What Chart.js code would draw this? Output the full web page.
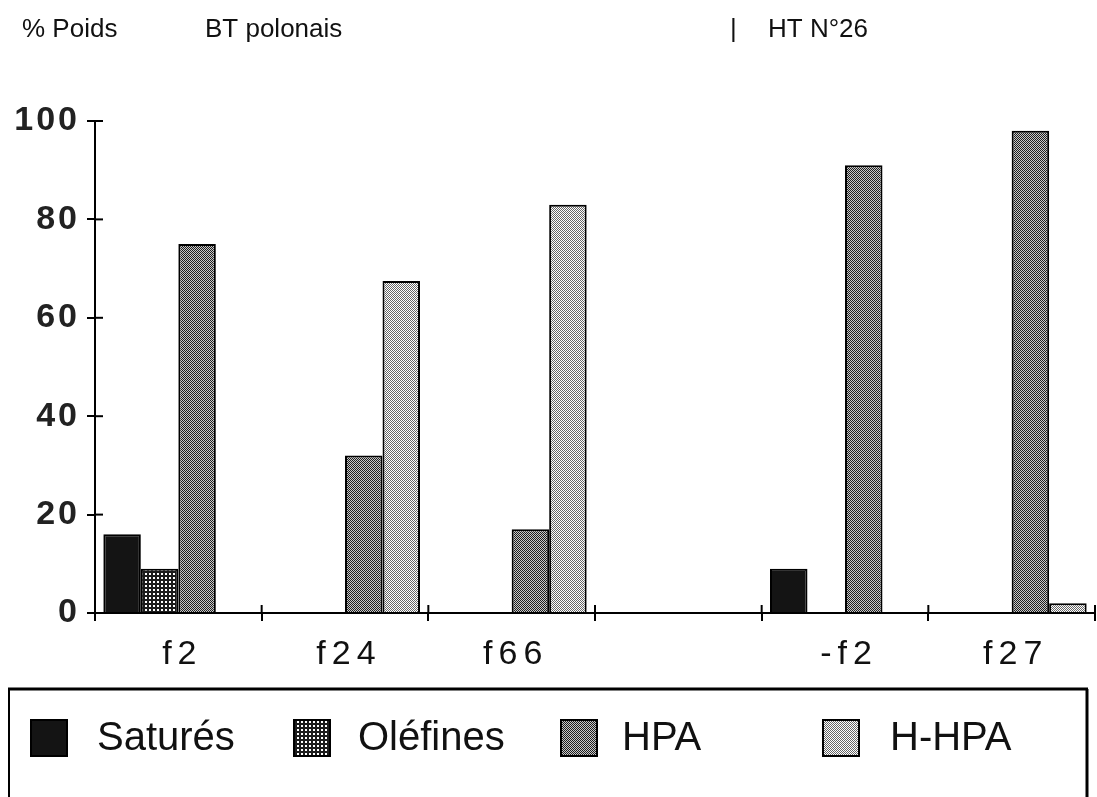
<!DOCTYPE html>
<html>
<head>
<meta charset="utf-8">
<script src="https://cdn.jsdelivr.net/npm/chart.js@4/dist/chart.umd.min.js"></script>
<style>
  body { margin: 0; background: #fff; }
  canvas { display: block; }
</style>
</head>
<body>
<canvas id="barChart" width="1097" height="797"></canvas>
<script>
const categories = ['f2', 'f24', 'f66', '', '-f2', 'f27'];
const satures = [16, 0, 0, 0, 9, 0];
const olefines = [9, 0, 0, 0, 0, 0];
const hpa = [75, 32, 17, 0, 91, 98];
const hhpa = [0, 67.5, 83, 0, 0, 2];
const yMin = 0, yMax = 100, yStep = 20;

// little tiles for the halftone fills
function makePattern(size, draw) {
  const c = document.createElement('canvas');
  c.width = size; c.height = size;
  const g = c.getContext('2d');
  draw(g);
  return g.createPattern(c, 'repeat');
}
const ctx = document.getElementById('barChart').getContext('2d');
const fillSat = '#141414';
const fillOle = makePattern(4, g => {
  g.fillStyle = '#1c1c1c'; g.fillRect(0, 0, 4, 4);
  g.fillStyle = '#fff'; g.fillRect(1, 1, 2, 2);
});
const fillHpa = makePattern(2, g => {
  g.fillStyle = '#c8c8c8'; g.fillRect(0, 0, 2, 2);
  g.fillStyle = '#1e1e1e'; g.fillRect(0, 0, 1, 1); g.fillRect(1, 1, 1, 1);
});
const fillHhpa = makePattern(2, g => {
  g.fillStyle = '#fff'; g.fillRect(0, 0, 2, 2);
  g.fillStyle = '#666'; g.fillRect(0, 0, 1, 1); g.fillRect(1, 1, 1, 1);
});

const font = 'Liberation Sans, Arial, Helvetica, sans-serif';
const spacing = { x: '6px', y: '3px' };

const decor = {
  id: 'decor',
  beforeDraw(chart) {
    // wider letter spacing on the axis labels, like the old print
    Object.values(chart.scales).forEach(s => {
      if (s._spaced) return;
      const orig = s.drawLabels.bind(s);
      s.drawLabels = area => {
        chart.ctx.save();
        chart.ctx.letterSpacing = spacing[s.id] || '0px';
        orig(area);
        chart.ctx.restore();
      };
      s._spaced = true;
    });
  },
  afterDraw(chart) {
    const c = chart.ctx;
    const x = chart.scales.x, y = chart.scales.y;
    c.save();
    c.strokeStyle = '#000';
    c.lineWidth = 2;
    // inner half of the ticks (they cross the axes)
    y.ticks.forEach((t, i) => {
      const py = y.getPixelForTick(i);
      c.beginPath(); c.moveTo(x.left, py); c.lineTo(x.left + 8, py); c.stroke();
    });
    c.beginPath(); c.moveTo(x.left, y.bottom); c.lineTo(x.left, y.bottom + 8); c.stroke();
    const n = categories.length;
    for (let i = 0; i <= n; i++) {
      const px = x.left + i * x.width / n;
      c.beginPath(); c.moveTo(px, y.bottom - 8); c.lineTo(px, y.bottom); c.stroke();
    }

    // header
    c.fillStyle = '#111';
    c.font = '26px ' + font;
    c.textBaseline = 'middle';
    c.fillText('% Poids', 22, 30);
    c.fillText('BT polonais', 205, 30);
    c.fillText('|', 730, 30);
    c.fillText('HT N°26', 768, 30);

    // legend frame
    c.lineWidth = 3;
    c.beginPath(); c.moveTo(8, 689); c.lineTo(1088, 689); c.stroke();
    c.beginPath(); c.moveTo(1087, 689); c.lineTo(1087, 797); c.stroke();
    c.lineWidth = 2;
    c.beginPath(); c.moveTo(9, 689); c.lineTo(9, 797); c.stroke();

    // legend items
    const boxX = [30, 293, 560, 822];
    const textX = [97, 358, 622, 890];
    c.font = '40px ' + font;
    chart.data.datasets.forEach((ds, i) => {
      c.fillStyle = ds.backgroundColor;
      c.fillRect(boxX[i], 719, 38, 38);
      c.lineWidth = 2;
      c.strokeRect(boxX[i] + 1, 720, 36, 36);
      c.fillStyle = '#111';
      c.fillText(ds.label, textX[i], 739);
    });
    c.restore();
  }
};

new Chart(ctx, {
  type: 'bar',
  data: {
    labels: categories,
    datasets: [
      { label: 'Saturés', data: satures, backgroundColor: fillSat },
      { label: 'Oléfines', data: olefines, backgroundColor: fillOle },
      { label: 'HPA', data: hpa, backgroundColor: fillHpa },
      { label: 'H-HPA', data: hhpa, backgroundColor: fillHhpa }
    ].map(d => Object.assign(d, { borderColor: '#000', borderWidth: 2 }))
  },
  options: {
    responsive: false,
    animation: false,
    devicePixelRatio: 1,
    layout: { padding: { top: 121, right: 2, bottom: 124, left: 0 } },
    datasets: { bar: { categoryPercentage: 0.9, barPercentage: 1.0 } },
    plugins: { legend: { display: false }, tooltip: { enabled: false } },
    scales: {
      x: {
        afterFit: s => { s.height = 60; },
        grid: { offset: true, drawOnChartArea: false, tickLength: 8, color: '#000', lineWidth: 2 },
        border: { color: '#000', width: 2 },
        ticks: { color: '#111', padding: 13, labelOffset: 4, font: { family: font, size: 34 } }
      },
      y: {
        min: yMin, max: yMax,
        afterFit: s => { s.width = 95; },
        grid: { drawOnChartArea: false, tickLength: 8, color: '#000', lineWidth: 2 },
        border: { color: '#000', width: 2 },
        ticks: { stepSize: yStep, color: '#222', padding: 7, font: { family: font, size: 34, weight: 'bold' } }
      }
    }
  },
  plugins: [decor]
});
</script>
</body>
</html>
